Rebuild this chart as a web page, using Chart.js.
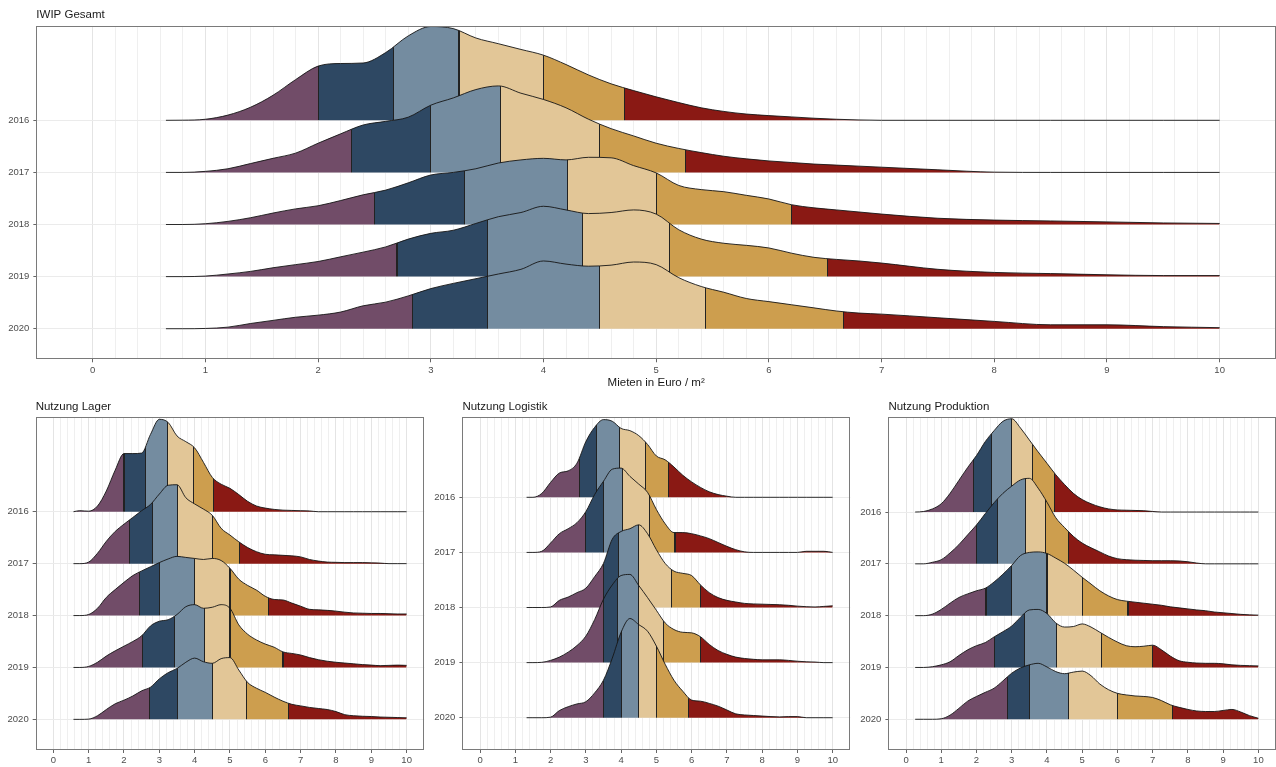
<!DOCTYPE html>
<html>
<head>
<meta charset="utf-8">
<script src="https://cdn.jsdelivr.net/npm/chart.js@4.4.1/dist/chart.umd.min.js"></script>
<style>
  html, body { margin: 0; padding: 0; background: #ffffff; width: 1276px; height: 767px; overflow: hidden; }
  .panel { position: absolute; }
  canvas { display: block; }
</style>
</head>
<body>
<div class="panel" style="left:0;top:0;width:1276px;height:395px"><canvas id="cGesamt" width="1276" height="395"></canvas></div>
<div class="panel" style="left:0;top:395px;width:430px;height:372px"><canvas id="cLager" width="430" height="372"></canvas></div>
<div class="panel" style="left:430px;top:395px;width:430px;height:372px"><canvas id="cLogistik" width="430" height="372"></canvas></div>
<div class="panel" style="left:860px;top:395px;width:416px;height:372px"><canvas id="cProduktion" width="416" height="372"></canvas></div>
<script>
// ---------------- data ----------------
const years = ['2016', '2017', '2018', '2019', '2020'];
const xTickLabels = ['0', '1', '2', '3', '4', '5', '6', '7', '8', '9', '10'];

// IWIP Gesamt
const gesamtX = [0.65, 0.8, 1.0, 1.2, 1.4, 1.6, 1.8, 2.0, 2.2, 2.4, 2.6, 2.8, 3.0, 3.2, 3.4, 3.6, 3.8, 4.0, 4.2, 4.4,
  4.6, 4.8, 5.0, 5.2, 5.4, 5.6, 5.8, 6.0, 6.2, 6.4, 6.6, 6.8, 7.0, 7.5, 8.0, 8.5, 9.0, 9.5, 10];
const gesamtDensity = [
  [0, 0.002, 0.02, 0.1, 0.25, 0.48, 0.78, 1.04, 1.09, 1.10, 1.30, 1.62, 1.80, 1.76, 1.58, 1.47, 1.36, 1.25, 1.07, 0.87,
   0.70, 0.57, 0.45, 0.34, 0.24, 0.17, 0.12, 0.09, 0.065, 0.04, 0.02, 0.007, 0, 0, 0, 0, 0, 0, 0],
  [0, 0, 0.02, 0.07, 0.17, 0.27, 0.37, 0.56, 0.74, 0.91, 0.98, 1.06, 1.29, 1.43, 1.59, 1.66, 1.52, 1.40, 1.24, 1.02,
   0.84, 0.70, 0.56, 0.46, 0.38, 0.31, 0.26, 0.22, 0.19, 0.16, 0.14, 0.12, 0.10, 0.05, 0.005, 0, 0, 0, 0],
  [0, 0, 0.015, 0.06, 0.13, 0.22, 0.30, 0.36, 0.46, 0.57, 0.66, 0.80, 0.95, 1.00, 1.07, 1.18, 1.24, 1.27, 1.24, 1.29,
   1.28, 1.13, 0.99, 0.75, 0.67, 0.63, 0.56, 0.49, 0.38, 0.32, 0.28, 0.24, 0.20, 0.12, 0.085, 0.068, 0.05, 0.03, 0.02],
  [0, 0, 0.01, 0.05, 0.10, 0.17, 0.23, 0.29, 0.38, 0.47, 0.57, 0.72, 0.83, 0.89, 1.02, 1.15, 1.23, 1.35, 1.28, 1.21,
   1.23, 1.28, 1.20, 0.90, 0.72, 0.64, 0.60, 0.55, 0.45, 0.37, 0.33, 0.30, 0.26, 0.14, 0.08, 0.058, 0.035, 0.02, 0.02],
  [0, 0, 0.005, 0.03, 0.10, 0.16, 0.22, 0.26, 0.32, 0.44, 0.51, 0.63, 0.77, 0.87, 0.96, 1.05, 1.14, 1.30, 1.24, 1.20,
   1.22, 1.28, 1.23, 0.98, 0.81, 0.70, 0.58, 0.52, 0.46, 0.40, 0.34, 0.30, 0.28, 0.21, 0.14, 0.075, 0.075, 0.04, 0.02]
];
const gesamtCuts = [
  [2.0, 2.67, 3.25, 4.0, 4.72],
  [2.30, 3.0, 3.62, 4.50, 5.26],
  [2.50, 3.30, 4.21, 5.0, 6.20],
  [2.70, 3.50, 4.35, 5.12, 6.52],
  [2.84, 3.50, 4.50, 5.44, 6.66]
];

// Nutzung Lager
const lagerX = [0.57, 0.75, 1, 1.25, 1.5, 1.75, 2, 2.25, 2.5, 2.75, 3, 3.25, 3.5, 3.75, 4, 4.25, 4.5, 4.75, 5, 5.25,
  5.5, 5.75, 6, 6.25, 6.5, 6.75, 7, 7.25, 7.5, 7.75, 8, 8.25, 8.5, 8.75, 9, 9.25, 9.5, 9.75, 10];
const lagerDensity = [
  [0, 0.02, 0.01, 0.11, 0.40, 0.80, 1.12, 1.12, 1.13, 1.49, 1.78, 1.72, 1.46, 1.35, 1.23, 0.95, 0.66, 0.53, 0.45, 0.33,
   0.20, 0.11, 0.07, 0.045, 0.03, 0.025, 0.02, 0.015, 0, 0, 0, 0, 0, 0, 0, 0, 0, 0, 0],
  [0, 0, 0.03, 0.20, 0.43, 0.62, 0.76, 0.89, 1.02, 1.14, 1.34, 1.51, 1.52, 1.27, 1.15, 1.05, 0.93, 0.68, 0.55, 0.42,
   0.31, 0.23, 0.18, 0.17, 0.16, 0.15, 0.13, 0.08, 0.05, 0.03, 0.025, 0.02, 0.02, 0.02, 0.015, 0.01, 0, 0, 0],
  [0, 0, 0.02, 0.14, 0.35, 0.50, 0.64, 0.77, 0.86, 0.94, 1.02, 1.09, 1.14, 1.12, 1.10, 1.08, 1.10, 1.06, 0.91, 0.70,
   0.58, 0.49, 0.37, 0.31, 0.30, 0.24, 0.18, 0.12, 0.11, 0.10, 0.085, 0.065, 0.05, 0.045, 0.04, 0.04, 0.035, 0.03, 0.03],
  [0, 0, 0.02, 0.10, 0.22, 0.32, 0.41, 0.50, 0.61, 0.80, 0.89, 0.92, 1.02, 1.17, 1.21, 1.14, 1.16, 1.21, 1.14, 0.82,
   0.64, 0.53, 0.45, 0.39, 0.30, 0.27, 0.24, 0.19, 0.15, 0.12, 0.10, 0.085, 0.07, 0.055, 0.045, 0.035, 0.04, 0.045, 0.04],
  [0, 0, 0.005, 0.07, 0.19, 0.30, 0.37, 0.45, 0.55, 0.62, 0.78, 0.90, 0.98, 1.10, 1.18, 1.11, 1.08, 1.17, 1.19, 0.95,
   0.71, 0.60, 0.52, 0.43, 0.35, 0.29, 0.26, 0.23, 0.21, 0.19, 0.15, 0.09, 0.07, 0.06, 0.055, 0.045, 0.04, 0.035, 0.03]
];
const lagerCuts = [
  [2.0, 2.61, 3.23, 3.96, 4.53],
  [2.15, 2.81, 3.51, 4.5, 5.26],
  [2.45, 3.0, 4.0, 5.0, 6.1],
  [2.52, 3.42, 4.27, 5.0, 6.5],
  [2.71, 3.52, 4.51, 5.48, 6.65]
];

// Nutzung Logistik
const logistikX = [1.32, 1.5, 1.75, 2, 2.25, 2.5, 2.75, 3, 3.25, 3.5, 3.75, 4, 4.25, 4.5, 4.75, 5, 5.25, 5.5, 5.75, 6,
  6.25, 6.5, 6.75, 7, 7.25, 7.5, 7.75, 8, 8.25, 8.5, 8.75, 9, 9.25, 9.5, 9.75, 10];
const logistikDensity = [
  [0, 0, 0.07, 0.27, 0.44, 0.48, 0.62, 1.01, 1.27, 1.41, 1.38, 1.25, 1.21, 1.12, 0.96, 0.75, 0.68, 0.55, 0.40, 0.28,
   0.18, 0.10, 0.05, 0.02, 0, 0, 0, 0, 0, 0, 0, 0, 0, 0, 0, 0],
  [0, 0, 0.02, 0.17, 0.34, 0.43, 0.54, 0.74, 1.05, 1.29, 1.51, 1.53, 1.38, 1.24, 1.09, 0.78, 0.52, 0.36, 0.36, 0.34,
   0.30, 0.25, 0.18, 0.11, 0.05, 0.01, 0, 0, 0, 0, 0, 0, 0.02, 0.02, 0.02, 0],
  [0, 0, 0, 0.01, 0.13, 0.19, 0.27, 0.35, 0.56, 0.80, 1.24, 1.38, 1.43, 1.50, 1.34, 1.05, 0.80, 0.66, 0.62, 0.58,
   0.41, 0.27, 0.18, 0.13, 0.10, 0.075, 0.065, 0.06, 0.055, 0.05, 0.04, 0.025, 0.015, 0.01, 0.02, 0.03],
  [0, 0, 0.005, 0.04, 0.10, 0.19, 0.31, 0.48, 0.78, 1.15, 1.41, 1.58, 1.60, 1.40, 1.18, 0.95, 0.72, 0.60, 0.55, 0.54,
   0.47, 0.33, 0.22, 0.15, 0.10, 0.075, 0.06, 0.05, 0.05, 0.05, 0.04, 0.025, 0.015, 0.01, 0, 0],
  [0, 0, 0, 0.01, 0.13, 0.20, 0.25, 0.29, 0.45, 0.68, 1.08, 1.55, 1.80, 1.69, 1.57, 1.30, 0.97, 0.68, 0.48, 0.32,
   0.30, 0.26, 0.21, 0.14, 0.07, 0.05, 0.04, 0.03, 0.02, 0.015, 0.02, 0.02, 0, 0, 0, 0]
];
const logistikCuts = [
  [2.82, 3.30, 3.95, 4.70, 5.35],
  [3.0, 3.5, 4.05, 4.8, 5.53],
  [3.5, 3.92, 4.5, 5.43, 6.25],
  [3.5, 3.9, 4.5, 5.2, 6.25],
  [3.5, 4.02, 4.5, 5.0, 5.9]
];

// Nutzung Produktion
const produktionX = [0.26, 0.5, 0.75, 1, 1.25, 1.5, 1.75, 2, 2.25, 2.5, 2.75, 3, 3.25, 3.5, 3.75, 4, 4.25, 4.5, 4.75, 5,
  5.25, 5.5, 5.75, 6, 6.25, 6.5, 6.75, 7, 7.25, 7.5, 7.75, 8, 8.25, 8.5, 8.75, 9, 9.25, 9.5, 9.75, 10];
const produktionDensity = [
  [0, 0.01, 0.06, 0.16, 0.36, 0.61, 0.86, 1.09, 1.36, 1.57, 1.75, 1.80, 1.62, 1.39, 1.16, 0.94, 0.72, 0.53, 0.36, 0.24,
   0.16, 0.10, 0.06, 0.04, 0.035, 0.03, 0.025, 0.01, 0, 0, 0, 0, 0, 0, 0, 0, 0, 0, 0, 0],
  [0, 0, 0.03, 0.08, 0.21, 0.37, 0.56, 0.75, 0.97, 1.18, 1.36, 1.50, 1.62, 1.65, 1.46, 1.19, 0.89, 0.70, 0.53, 0.40,
   0.31, 0.23, 0.15, 0.10, 0.08, 0.07, 0.065, 0.06, 0.06, 0.06, 0.055, 0.04, 0.015, 0, 0, 0, 0, 0, 0, 0],
  [0, 0, 0.03, 0.12, 0.24, 0.35, 0.42, 0.48, 0.53, 0.65, 0.80, 0.97, 1.16, 1.22, 1.23, 1.20, 1.11, 1.01, 0.88, 0.74,
   0.61, 0.48, 0.38, 0.31, 0.28, 0.26, 0.24, 0.22, 0.20, 0.17, 0.15, 0.13, 0.11, 0.095, 0.07, 0.055, 0.04, 0.025, 0.015, 0.01],
  [0, 0, 0.015, 0.05, 0.11, 0.23, 0.34, 0.42, 0.48, 0.59, 0.69, 0.80, 0.97, 1.11, 1.12, 1.04, 0.86, 0.78, 0.79, 0.84,
   0.78, 0.68, 0.58, 0.49, 0.42, 0.40, 0.41, 0.43, 0.34, 0.22, 0.13, 0.10, 0.085, 0.08, 0.08, 0.07, 0.05, 0.04, 0.035, 0.03],
  [0, 0, 0, 0.01, 0.08, 0.21, 0.35, 0.44, 0.52, 0.60, 0.74, 0.89, 0.99, 1.05, 1.08, 1.01, 0.92, 0.88, 0.91, 0.93,
   0.84, 0.68, 0.57, 0.50, 0.47, 0.45, 0.44, 0.42, 0.36, 0.28, 0.23, 0.19, 0.16, 0.15, 0.15, 0.17, 0.19, 0.14, 0.07, 0.02]
];
const produktionCuts = [
  [1.91, 2.43, 3.0, 3.6, 4.22],
  [2.0, 2.6, 3.4, 3.95, 4.6],
  [2.27, 3.0, 4.0, 5.0, 6.3],
  [2.5, 3.35, 4.27, 5.55, 7.0],
  [2.87, 3.5, 4.6, 6.0, 7.55]
];

// ---------------- style ----------------
const FONT = "'Liberation Sans', Arial, Helvetica, sans-serif";
Chart.defaults.font.family = FONT;
const bandColors = ['#714c68', '#2e4863', '#748ca0', '#e2c697', '#cd9e4e', '#8a1914'];
const cutLineColor = '#222222';
const xGridValues = Array.from({ length: 51 }, (_, k) => k / 5); // grid every 0.2

function bandGradient(chart, cuts) {
  const area = chart.chartArea;
  const xs = chart.scales && chart.scales.x;
  if (!area || !xs) return bandColors[2];
  const w = area.right - area.left;
  const g = chart.ctx.createLinearGradient(area.left, 0, area.right, 0);
  const half = 0.55 / w;
  g.addColorStop(0, bandColors[0]);
  cuts.forEach((c, i) => {
    const o = (xs.getPixelForValue(c) - area.left) / w;
    const a = Math.max(0, Math.min(1, o - half));
    const b = Math.max(0, Math.min(1, o + half));
    g.addColorStop(a, bandColors[i]);
    g.addColorStop(a, cutLineColor);
    g.addColorStop(b, cutLineColor);
    g.addColorStop(b, bandColors[i + 1]);
  });
  g.addColorStop(1, bandColors[5]);
  return g;
}

const panelBorder = {
  id: 'panelBorder',
  afterDatasetsDraw(chart) {
    const { ctx, chartArea: a } = chart;
    ctx.save();
    ctx.strokeStyle = '#7a7a7a';
    ctx.lineWidth = 1;
    const l = Math.round(a.left) + 0.5, t = Math.round(a.top) + 0.5;
    const r = Math.round(a.right) - 0.5, b = Math.round(a.bottom) - 0.5;
    ctx.strokeRect(l, t, r - l, b - t);
    ctx.restore();
  }
};

function ridgeChart(id, opt) {
  const n = years.length;
  const datasets = years.map((yr, i) => {
    const base = n - 1 - i;
    return {
      label: yr,
      data: opt.x.map((xv, k) => ({ x: xv, y: base + opt.density[i][k] })),
      fill: { value: base },
      backgroundColor: (c) => bandGradient(c.chart, opt.cuts[i]),
      borderColor: '#151515',
      borderWidth: 0.9,
      pointRadius: 0,
      pointHoverRadius: 0,
      cubicInterpolationMode: 'monotone',
      order: n - 1 - i
    };
  });
  return new Chart(document.getElementById(id), {
    type: 'line',
    data: { datasets },
    plugins: [panelBorder],
    options: {
      responsive: false,
      animation: false,
      devicePixelRatio: 1,
      events: [],
      layout: { padding: { left: 0, right: opt.padRight, top: 0, bottom: 0 } },
      plugins: {
        legend: { display: false },
        tooltip: { enabled: false },
        title: {
          display: true, text: opt.title, align: 'start', fullSize: false,
          color: '#1a1a1a', font: { family: FONT, size: 11.5, weight: 'normal' },
          padding: { top: opt.titlePadTop, bottom: opt.titlePadBottom }
        }
      },
      scales: {
        x: {
          type: 'linear', min: -0.5, max: 10.5,
          afterBuildTicks: (s) => { s.ticks = xGridValues.map(v => ({ value: v })); },
          afterFit: (s) => { s.height = opt.xAxisH; },
          border: { display: false },
          grid: {
            color: (c) => (c.tick && Math.round(c.tick.value * 5) % 5 === 0) ? '#e4e4e4' : '#efefef',
            lineWidth: 1,
            drawTicks: true, tickLength: 3, tickWidth: 1,
            tickColor: (c) => (c.tick && Math.round(c.tick.value * 5) % 5 === 0) ? '#666666' : 'rgba(0,0,0,0)'
          },
          ticks: {
            autoSkip: false, maxRotation: 0, minRotation: 0, padding: 2,
            color: '#4d4d4d', font: { family: FONT, size: 9.5 },
            callback: (v) => { const k = Math.round(v * 5); return k % 5 === 0 ? xTickLabels[k / 5] : ''; }
          },
          title: opt.xTitle ? {
            display: true, text: opt.xTitle, color: '#1a1a1a',
            font: { family: FONT, size: 11.5 }, padding: { top: 0, bottom: opt.xTitlePadBottom }
          } : { display: false }
        },
        y: {
          type: 'linear', min: opt.yMin, max: opt.yMax,
          afterBuildTicks: (s) => { s.ticks = years.map((_, i) => ({ value: i })); },
          afterFit: (s) => { s.width = opt.yAxisW; },
          border: { display: false },
          grid: { color: '#ebebeb', lineWidth: 1, drawTicks: true, tickLength: 3, tickColor: '#666666' },
          ticks: {
            padding: 4, color: '#4d4d4d', font: { family: FONT, size: 9.5 },
            callback: (v) => years[n - 1 - Math.round(v)]
          }
        }
      }
    }
  });
}

ridgeChart('cGesamt', {
  title: 'IWIP Gesamt', x: gesamtX, density: gesamtDensity, cuts: gesamtCuts,
  yMin: -0.587, yMax: 5.81, yAxisW: 36.35, xAxisH: 35.7, padRight: 0,
  titlePadTop: 7.6, titlePadBottom: 4.6, xTitle: 'Mieten in Euro / m²', xTitlePadBottom: 5.4
});
ridgeChart('cLager', {
  title: 'Nutzung Lager', x: lagerX, density: lagerDensity, cuts: lagerCuts,
  yMin: -0.59, yMax: 5.819, yAxisW: 35.67, xAxisH: 17, padRight: 5.7,
  titlePadTop: 4.8, titlePadBottom: 3.7
});
ridgeChart('cLogistik', {
  title: 'Nutzung Logistik', x: logistikX, density: logistikDensity, cuts: logistikCuts,
  yMin: -0.586, yMax: 5.452, yAxisW: 32.4, xAxisH: 17, padRight: 9.7,
  titlePadTop: 4.8, titlePadBottom: 3.7
});
ridgeChart('cProduktion', {
  title: 'Nutzung Produktion', x: produktionX, density: produktionDensity, cuts: produktionCuts,
  yMin: -0.593, yMax: 5.828, yAxisW: 28.4, xAxisH: 17, padRight: 0,
  titlePadTop: 4.8, titlePadBottom: 3.7
});
</script>
</body>
</html>
